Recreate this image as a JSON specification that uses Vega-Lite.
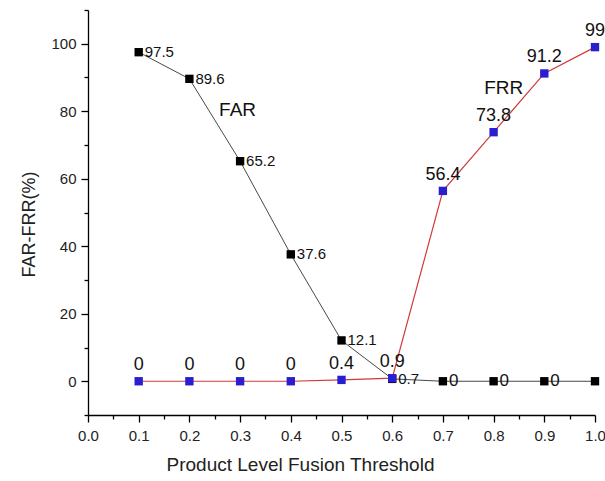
{
  "$schema": "https://vega.github.io/schema/vega-lite/v6.json",
  "width": 507,
  "height": 405,
  "autosize": "none",
  "padding": {"left": 88, "top": 10, "right": 10, "bottom": 66},
  "background": "white",
  "config": {
    "view": {"stroke": null},
    "font": "Liberation Sans",
    "axis": {
      "grid": false,
      "domainColor": "#000000",
      "domainWidth": 1.3,
      "tickColor": "#000000",
      "tickWidth": 1.3,
      "labelFont": "Liberation Sans",
      "titleFont": "Liberation Sans",
      "labelColor": "#222222",
      "titleColor": "#222222",
      "labelFontSize": 15,
      "titleFontSize": 18,
      "titleFontWeight": "normal"
    }
  },
  "datasets": {
    "rates": [
      {"threshold": 0.1, "series": "FAR", "value": 97.5},
      {"threshold": 0.2, "series": "FAR", "value": 89.6},
      {"threshold": 0.3, "series": "FAR", "value": 65.2},
      {"threshold": 0.4, "series": "FAR", "value": 37.6},
      {"threshold": 0.5, "series": "FAR", "value": 12.1},
      {"threshold": 0.6, "series": "FAR", "value": 0.7},
      {"threshold": 0.7, "series": "FAR", "value": 0},
      {"threshold": 0.8, "series": "FAR", "value": 0},
      {"threshold": 0.9, "series": "FAR", "value": 0},
      {"threshold": 1.0, "series": "FAR", "value": 0},
      {"threshold": 0.1, "series": "FRR", "value": 0},
      {"threshold": 0.2, "series": "FRR", "value": 0},
      {"threshold": 0.3, "series": "FRR", "value": 0},
      {"threshold": 0.4, "series": "FRR", "value": 0},
      {"threshold": 0.5, "series": "FRR", "value": 0.4},
      {"threshold": 0.6, "series": "FRR", "value": 0.9},
      {"threshold": 0.7, "series": "FRR", "value": 56.4},
      {"threshold": 0.8, "series": "FRR", "value": 73.8},
      {"threshold": 0.9, "series": "FRR", "value": 91.2},
      {"threshold": 1.0, "series": "FRR", "value": 99}
    ],
    "names": [
      {"threshold": 0.295, "value": 80.5, "name": "FAR"},
      {"threshold": 0.82, "value": 87, "name": "FRR"}
    ]
  },
  "encoding": {
    "x": {
      "field": "threshold",
      "type": "quantitative",
      "scale": {"domain": [0, 1], "nice": false, "zero": false},
      "axis": {
        "title": "Product Level Fusion Threshold",
        "titleX": 212,
        "titleFontSize": 19,
        "titlePadding": 12,
        "values": [0, 0.05, 0.1, 0.15, 0.2, 0.25, 0.3, 0.35, 0.4, 0.45, 0.5, 0.55, 0.6, 0.65, 0.7, 0.75, 0.8, 0.85, 0.9, 0.95, 1.0],
        "labelExpr": "round(datum.value*100) % 10 == 0 ? format(datum.value, '.1f') : ''",
        "tickSize": {"condition": {"test": "round(datum.value*100) % 10 == 0", "value": 7}, "value": 4},
        "labelPadding": 6,
        "labelFlush": false
      }
    },
    "y": {
      "field": "value",
      "type": "quantitative",
      "scale": {"domain": [-10, 110], "nice": false, "zero": false},
      "axis": {
        "title": "FAR-FRR(%)",
        "titlePadding": 12,
        "titleY": 214,
        "values": [-10, 0, 10, 20, 30, 40, 50, 60, 70, 80, 90, 100, 110],
        "labelExpr": "datum.value % 20 == 0 && datum.value >= 0 && datum.value <= 100 ? format(datum.value, 'd') : ''",
        "tickSize": {"condition": {"test": "datum.value % 20 == 0 && datum.value >= 0 && datum.value <= 100", "value": 7}, "value": 4},
        "labelPadding": 5,
        "labelFlush": false
      }
    }
  },
  "layer": [
    {
      "data": {"name": "rates"},
      "transform": [{"filter": "datum.series == 'FAR'"}],
      "mark": {"type": "line", "color": "#333333", "strokeWidth": 0.9},
      "encoding": {}
    },
    {
      "data": {"name": "rates"},
      "transform": [{"filter": "datum.series == 'FAR'"}],
      "mark": {"type": "point", "shape": "square", "filled": true, "color": "#000000", "size": 70, "opacity": 1},
      "encoding": {}
    },
    {
      "data": {"name": "rates"},
      "transform": [{"filter": "datum.series == 'FAR' && datum.value > 0"}],
      "mark": {"type": "text", "align": "left", "baseline": "middle", "dx": 6, "fontSize": 15, "color": "#111111"},
      "encoding": {"text": {"field": "value", "type": "quantitative", "format": ".1f"}}
    },
    {
      "data": {"name": "rates"},
      "transform": [{"filter": "datum.series == 'FAR' && datum.value == 0 && datum.threshold < 0.95"}],
      "mark": {"type": "text", "align": "left", "baseline": "middle", "dx": 6, "fontSize": 17, "color": "#111111"},
      "encoding": {"text": {"field": "value", "type": "quantitative", "format": "d"}}
    },
    {
      "data": {"name": "rates"},
      "transform": [{"filter": "datum.series == 'FRR'"}],
      "mark": {"type": "line", "color": "#d23a3a", "strokeWidth": 1.2},
      "encoding": {}
    },
    {
      "data": {"name": "rates"},
      "transform": [{"filter": "datum.series == 'FRR'"}],
      "mark": {"type": "point", "shape": "square", "filled": true, "color": "#2a1fd0", "size": 70, "opacity": 1},
      "encoding": {}
    },
    {
      "data": {"name": "rates"},
      "transform": [{"filter": "datum.series == 'FRR'"}],
      "mark": {"type": "text", "align": "center", "baseline": "alphabetic", "dy": -11, "fontSize": 18, "color": "#111111"},
      "encoding": {"text": {"field": "value", "type": "nominal"}}
    },
    {
      "data": {"name": "names"},
      "mark": {"type": "text", "align": "center", "baseline": "middle", "fontSize": 19, "color": "#111111"},
      "encoding": {"text": {"field": "name", "type": "nominal"}}
    }
  ]
}
